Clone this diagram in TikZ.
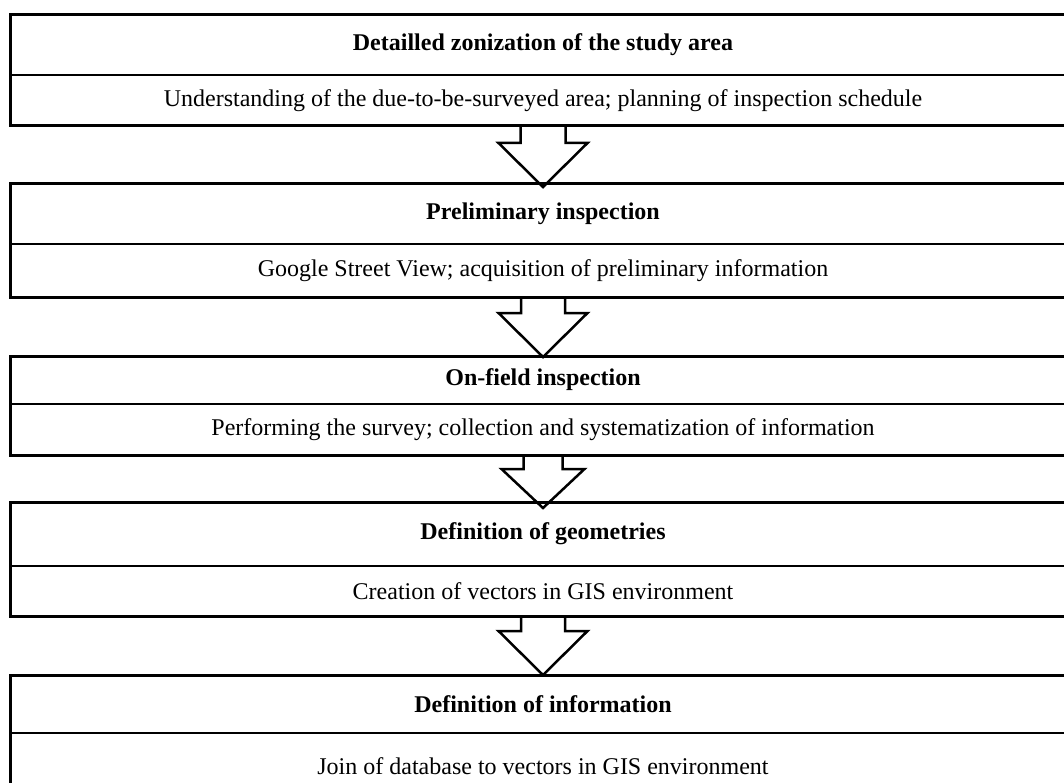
\documentclass[tikz,border=0pt]{standalone}
\usepackage{fontspec}
\setmainfont{Liberation Serif}
\usetikzlibrary{calc}
\tikzset{
  cell/.style={draw, line width=2pt, minimum width=1066pt, inner sep=0pt, outer sep=0pt, anchor=center},
  titlecell/.style={cell, font=\fontsize{24}{28}\selectfont\bfseries},
  subcell/.style={cell, font=\fontsize{24}{28}\selectfont},
  outerbox/.style={draw, line width=3pt},
  barrow/.style={draw, line width=2.5pt, line join=miter}
}
\newcommand{\flowarrow}[6]{%
  \draw[barrow] ($(#1.south)+(-#3,0)$) -- ($(#1.south)+(-#3,#5)$) -- ($(#1.south)+(-#4,#5)$)
    -- ($(#2.north)+(0,#6)$) -- ($(#1.south)+(#4,#5)$) -- ($(#1.south)+(#3,#5)$) -- ($(#1.south)+(#3,0)$);}
\begin{document}
\begin{tikzpicture}[x=1pt, y=-1pt]
\useasboundingbox (0,0) rectangle (1064,783);
\clip (0,0) rectangle (1064,783);
\fill[white] (0,0) rectangle (1064,783);

\node[titlecell, minimum height=60pt] (t1) at (543,45) {Detailled zonization of the study area};
\node[subcell, minimum height=51pt] (s1) at (543,100.5) {Understanding of the due-to-be-surveyed area; planning of inspection schedule};
\draw[outerbox] (t1.north west) rectangle (s1.south east);

\node[titlecell, minimum height=60pt] (t2) at (543,214) {Preliminary inspection};
\node[subcell, minimum height=53pt] (s2) at (543,270.5) {Google Street View; acquisition of preliminary information};
\draw[outerbox] (t2.north west) rectangle (s2.south east);

\node[titlecell, minimum height=48pt] (t3) at (543,380) {On-field inspection};
\node[subcell, minimum height=51pt] (s3) at (543,429.5) {Performing the survey; collection and systematization of information};
\draw[outerbox] (t3.north west) rectangle (s3.south east);

\node[titlecell, minimum height=64pt] (t4) at (543,534) {Definition of geometries};
\node[subcell, minimum height=50pt] (s4) at (543,591) {Creation of vectors in GIS environment};
\draw[outerbox] (t4.north west) rectangle (s4.south east);

\node[titlecell, minimum height=58pt] (t5) at (543,704) {Definition of information};
\node[subcell, minimum height=67pt] (s5) at (543,766.5) {Join of database to vectors in GIS environment};
\draw[outerbox] (t5.north west) rectangle (s5.south east);

\flowarrow{s1}{t2}{22.5}{44.5}{17}{3}
\flowarrow{s2}{t3}{22}{44.5}{16}{1}
\flowarrow{s3}{t4}{19.5}{41.5}{14}{6}
\flowarrow{s4}{t5}{22}{44.5}{15}{0}
\end{tikzpicture}
\end{document}
